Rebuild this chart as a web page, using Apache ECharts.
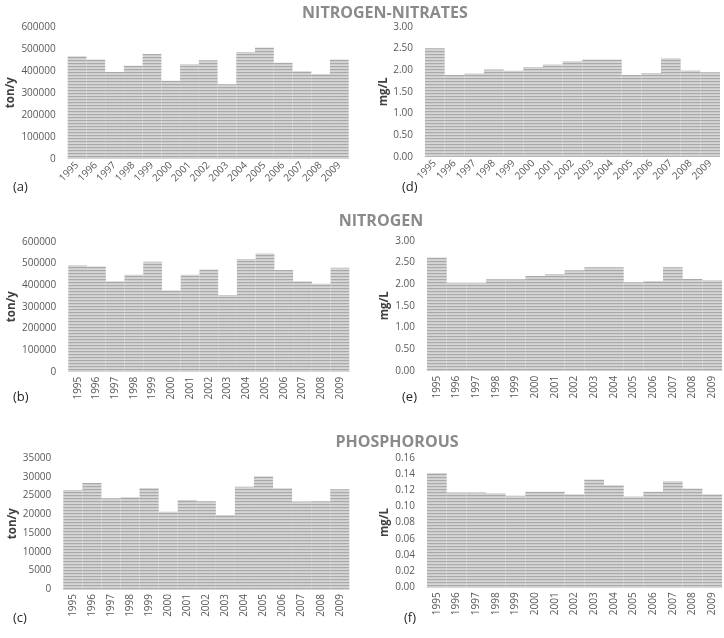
<!DOCTYPE html>
<html>
<head>
<meta charset="utf-8">
<script src="https://cdn.jsdelivr.net/npm/echarts@6/dist/echarts.min.js"></script>
<style>html,body{margin:0;padding:0;background:#fff}#c{width:724px;height:638px}</style>
</head>
<body>
<div id="c"></div>
<script>
const years = ['1995','1996','1997','1998','1999','2000','2001','2002','2003','2004','2005','2006','2007','2008','2009'];
const nitratesLoad = [466000,451000,394000,423000,476000,354000,429000,447000,338000,485000,506000,436000,397000,385000,451000];
const nitratesConc = [2.50,1.885,1.92,2.01,1.985,2.07,2.13,2.20,2.245,2.245,1.885,1.93,2.27,1.99,1.95];
const nitrogenLoad = [491000,485000,417000,448000,508000,375000,448000,472000,354000,520000,546000,469000,417000,406000,480000];
const nitrogenConc = [2.615,2.03,2.03,2.11,2.11,2.185,2.23,2.32,2.385,2.385,2.04,2.07,2.385,2.115,2.085];
const phosphorusLoad = [26500,28400,24300,24600,27050,20700,23800,23500,19800,27400,30200,27000,23400,23500,26700];
const phosphorusConc = [0.141,0.117,0.117,0.116,0.113,0.118,0.118,0.115,0.133,0.126,0.112,0.118,0.131,0.122,0.115];
const sectionTitles = ['NITROGEN-NITRATES','NITROGEN','PHOSPHOROUS'];
const panelLetters = ['(a)','(b)','(c)','(d)','(e)','(f)'];

// striped fill pattern
const pat = document.createElement('canvas');
pat.width = 4; pat.height = 3;
const pc = pat.getContext('2d');
pc.fillStyle = '#a9a9a9'; pc.fillRect(0,0,4,1);
pc.fillStyle = '#cdcdcd'; pc.fillRect(0,1,4,1);
pc.fillStyle = '#d6d6d6'; pc.fillRect(0,2,4,1);

const panels = [
  {grid:{left:67.7,top:26.7,width:281,height:132}, data:nitratesLoad, max:600000, interval:100000, dec:0, name:'ton/y', gap:51, rot:45},
  {grid:{left:68.3,top:241.7,width:281,height:130}, data:nitrogenLoad, max:600000, interval:100000, dec:0, name:'ton/y', gap:50, rot:90},
  {grid:{left:63.3,top:458.3,width:286,height:130.7}, data:phosphorusLoad, max:35000, interval:5000, dec:0, name:'ton/y', gap:45, rot:90},
  {grid:{left:425,top:26.7,width:295,height:130}, data:nitratesConc, max:3, interval:0.5, dec:2, name:'mg/L', gap:35, rot:45},
  {grid:{left:427,top:240.7,width:295,height:130}, data:nitrogenConc, max:3, interval:0.5, dec:2, name:'mg/L', gap:36, rot:90},
  {grid:{left:427,top:457.7,width:295,height:129.6}, data:phosphorusConc, max:0.16, interval:0.02, dec:2, name:'mg/L', gap:36, rot:90}
];

const font = 'Open Sans';
const option = {
  animation:false,
  backgroundColor:'#fff',
  textStyle:{fontFamily:font},
  title: sectionTitles.map((t,i)=>({
    text:t, left:[380,376,392][i], top:[8.5,216.5,437.5][i],
    textAlign:'center', textVerticalAlign:'middle',
    textStyle:{fontFamily:font,fontSize:16,fontWeight:'bold',color:'#8a8a8a'}
  })),
  grid: panels.map(p=>Object.assign({outerBoundsMode:'none',containLabel:false}, p.grid)),
  xAxis: panels.map((p,i)=>({
    type:'category', gridIndex:i, data:years,
    axisLine:{show:true,lineStyle:{color:'#d9d9d9'}},
    axisTick:{show:false},
    axisLabel:{rotate:p.rot, interval:0, fontSize:10, color:'#595959', margin:5, fontFamily:font}
  })),
  yAxis: panels.map((p,i)=>({
    type:'value', gridIndex:i, min:0, max:p.max, interval:p.interval,
    axisLine:{show:false}, axisTick:{show:false}, splitLine:{show:false},
    axisLabel:{fontSize:10, color:'#595959', margin:12, fontFamily:font,
      formatter:v=>v.toFixed(p.dec)},
    name:p.name, nameLocation:'middle', nameRotate:90, nameGap:p.gap,
    nameTextStyle:{fontSize:11.5, fontWeight:'bold', color:'#404040', fontFamily:font}
  })),
  series: panels.map((p,i)=>({
    type:'bar', xAxisIndex:i, yAxisIndex:i, data:p.data,
    barCategoryGap:'0%',
    itemStyle:{color:{image:pat, repeat:'repeat'}}
  })),
  graphic: panelLetters.map((t,i)=>({
    type:'text',
    left:[13,13,13,402,402,404][i],
    top:[181,391,612,181,391,612][i],
    style:{text:t, fontSize:13, fill:'#262626', fontFamily:font}
  }))
};
const chart = echarts.init(document.getElementById('c'), null, {renderer:'canvas'});
chart.setOption(option);
</script>
</body>
</html>
